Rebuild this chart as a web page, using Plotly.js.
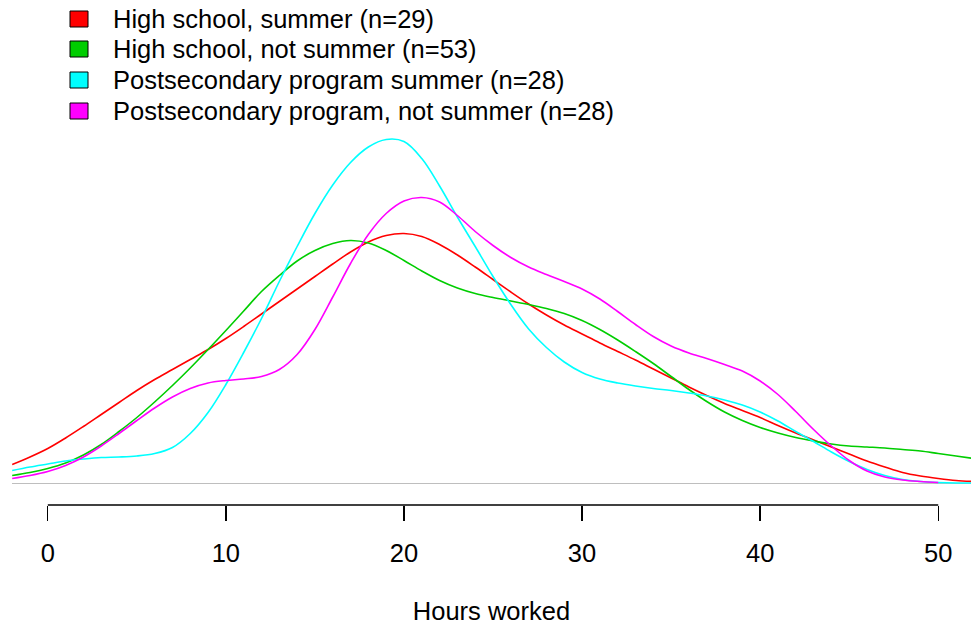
<!DOCTYPE html>
<html>
<head>
<meta charset="utf-8">
<script src="https://cdn.plot.ly/plotly-3.0.1.min.js"></script>
<style>html,body{margin:0;padding:0;background:#fff;}#chart{width:971px;height:627px;}</style>
</head>
<body>
<div id="chart"></div>
<script>
// Hours worked grid (-2 .. 52)
const hours = [-2,-1,0,1,2,3,4,5,6,7,8,9,10,11,12,13,14,15,16,17,18,19,20,21,22,23,24,25,26,27,28,29,30,31,32,33,34,35,36,37,38,39,40,41,42,43,44,45,46,47,48,49,50,51,52];
// Density estimates
const hsSummer = [0.0038,0.0053,0.0070,0.0091,0.0114,0.0138,0.0162,0.0186,0.0208,0.0228,0.0248,0.0268,0.0290,0.0314,0.0339,0.0364,0.0389,0.0414,0.0439,0.0463,0.0483,0.0496,0.0500,0.0494,0.0478,0.0457,0.0433,0.0408,0.0383,0.0359,0.0337,0.0317,0.0299,0.0281,0.0264,0.0247,0.0229,0.0211,0.0193,0.0176,0.0160,0.0146,0.0132,0.0116,0.0101,0.0087,0.0073,0.0059,0.0045,0.0033,0.0022,0.0015,0.0010,0.0006,0.0004];
const hsNotSummer = [0.0016,0.0022,0.0030,0.0041,0.0057,0.0078,0.0104,0.0132,0.0163,0.0196,0.0231,0.0268,0.0306,0.0345,0.0384,0.0416,0.0445,0.0466,0.0480,0.0486,0.0481,0.0466,0.0446,0.0425,0.0406,0.0391,0.0380,0.0372,0.0365,0.0358,0.0350,0.0340,0.0326,0.0308,0.0287,0.0264,0.0240,0.0214,0.0188,0.0164,0.0143,0.0126,0.0112,0.0101,0.0092,0.0085,0.0079,0.0075,0.0073,0.0071,0.0068,0.0065,0.0060,0.0055,0.0050];
const psSummer = [0.0026,0.0033,0.0039,0.0045,0.0049,0.0052,0.0053,0.0055,0.0060,0.0072,0.0100,0.0142,0.0198,0.0262,0.0330,0.0404,0.0474,0.0540,0.0597,0.0642,0.0673,0.0688,0.0684,0.0650,0.0595,0.0533,0.0474,0.0414,0.0358,0.0309,0.0272,0.0243,0.0222,0.0209,0.0201,0.0195,0.0190,0.0186,0.0181,0.0175,0.0167,0.0157,0.0143,0.0125,0.0104,0.0084,0.0063,0.0044,0.0028,0.0016,0.0008,0.0004,0.0002,0.0001,0.0001];
const psNotSummer = [0.0010,0.0016,0.0024,0.0036,0.0053,0.0075,0.0100,0.0126,0.0151,0.0173,0.0190,0.0201,0.0206,0.0209,0.0214,0.0228,0.0258,0.0308,0.0373,0.0440,0.0498,0.0540,0.0565,0.0572,0.0563,0.0536,0.0504,0.0476,0.0452,0.0433,0.0418,0.0404,0.0389,0.0369,0.0344,0.0318,0.0294,0.0275,0.0261,0.0250,0.0238,0.0225,0.0205,0.0178,0.0144,0.0108,0.0075,0.0046,0.0025,0.0013,0.0007,0.0004,0.0002,null,null];

const seriesNames = ["High school, summer (n=29)","High school, not summer (n=53)","Postsecondary program summer (n=28)","Postsecondary program, not summer (n=28)"];
const seriesColors = ["#FF0000","#00CD00","#00FFFF","#FF00FF"];
const seriesValues = [hsSummer, hsNotSummer, psSummer, psNotSummer];
const tickValues = [0,10,20,30,40,50];
const xTitle = "Hours worked";

const FONT = "Liberation Sans, Arial, Helvetica, sans-serif";
const W = 971, H = 627;
const M = {l: 12, r: 0, t: 125, b: 122};
const plotW = W - M.l - M.r, plotH = H - M.t - M.b;
const px2x = p => (p - M.l) / plotW;
const py2y = p => (H - M.b - p) / plotH;

const traces = seriesValues.map((vals, i) => ({
  type: "scatter", mode: "lines", x: hours, y: vals, name: seriesNames[i],
  line: {color: seriesColors[i], width: 1.6, shape: "spline", smoothing: 1},
  showlegend: false, hoverinfo: "skip"
}));

const shapes = [{
  type: "line", xref: "x", yref: "paper", x0: tickValues[0], x1: tickValues[tickValues.length-1],
  y0: 0, y1: 0, line: {color: "#000", width: 1.3}
}];
const annotations = [];
const rowY = [19, 49, 80, 111];
seriesNames.forEach((nm, i) => {
  const cy = rowY[i];
  shapes.push({type: "rect", xref: "paper", yref: "paper",
    x0: px2x(70), x1: px2x(88), y0: py2y(cy + 8), y1: py2y(cy - 8),
    fillcolor: seriesColors[i], line: {color: "#000", width: 1}});
  annotations.push({xref: "paper", yref: "paper", x: px2x(111), y: py2y(cy),
    xanchor: "left", yanchor: "middle", showarrow: false, text: nm,
    font: {family: FONT, size: 25.5, color: "#000"}});
});

const layout = {
  width: W, height: H, margin: M,
  paper_bgcolor: "#fff", plot_bgcolor: "#fff",
  showlegend: false,
  xaxis: {
    range: [-2.01, 51.84], anchor: "free", position: 0,
    showgrid: false, zeroline: false, showline: false,
    tickmode: "array", tickvals: tickValues, ticktext: tickValues.map(String),
    ticks: "outside", ticklen: 15, tickwidth: 1.3, tickcolor: "#000",
    ticklabelstandoff: 10,
    tickfont: {family: FONT, size: 25.5, color: "#000"},
    title: {text: xTitle, font: {family: FONT, size: 25.5, color: "#000"}, standoff: 36}
  },
  yaxis: {
    domain: [8/380, 1], range: [-0.0027, 0.0717],
    showgrid: false, showticklabels: false, ticks: "", showline: false,
    zeroline: true, zerolinecolor: "#BEBEBE", zerolinewidth: 1.3
  },
  shapes: shapes,
  annotations: annotations
};

Plotly.newPlot("chart", traces, layout, {staticPlot: true, displayModeBar: false});
</script>
</body>
</html>
